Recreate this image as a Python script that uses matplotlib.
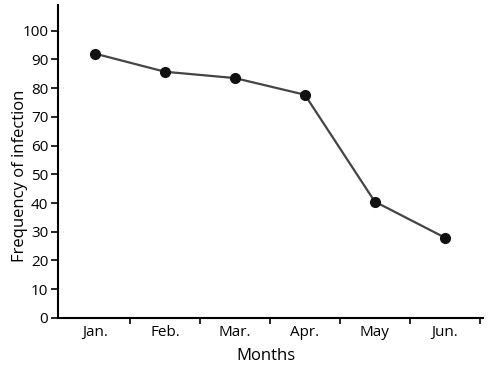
import matplotlib.pyplot as plt
import numpy as np

# Data
months = ["Jan.", "Feb.", "Mar.", "Apr.", "May", "Jun."]
infection_freq = [92, 85.7, 83.5, 77.7, 40.5, 28]
y_ticks = list(range(0, 101, 10))

plt.rcParams["font.family"] = ["Open Sans", "DejaVu Sans"]

fig = plt.figure(figsize=(4.88, 3.71), dpi=100)
ax = fig.add_axes([0.119, 0.143, 0.871, 0.844])

x = np.arange(len(months)) + 0.5
ax.plot(x, infection_freq, color="#444444", linewidth=1.6, zorder=2)
ax.plot(x, infection_freq, "o", color="#111111", markersize=7, zorder=3)

ax.set_xlim(-0.03, 6.05)
ax.set_ylim(0, 109)

# category boundary ticks, labels in between
ax.set_xticks(np.arange(1, 7))
ax.set_xticklabels([])
ax.set_xticks(x, minor=True)
ax.set_xticklabels(months, minor=True, fontsize=11)
ax.tick_params(axis="x", which="minor", length=0, pad=5)
ax.tick_params(axis="x", which="major", length=4, width=1.2, direction="out")

ax.set_yticks(y_ticks)
ax.tick_params(axis="y", length=5, width=1.2, labelsize=11, pad=2)

for side in ["top", "right"]:
    ax.spines[side].set_visible(False)
for side in ["left", "bottom"]:
    ax.spines[side].set_linewidth(1.5)

ax.set_xlabel("Months", fontsize=12)
ax.set_ylabel("Frequency of infection", fontsize=12)
ax.xaxis.set_label_coords(0.49, -0.097)
ax.yaxis.set_label_coords(-0.07, 0.455)

fig.savefig("out.png", dpi=100)
